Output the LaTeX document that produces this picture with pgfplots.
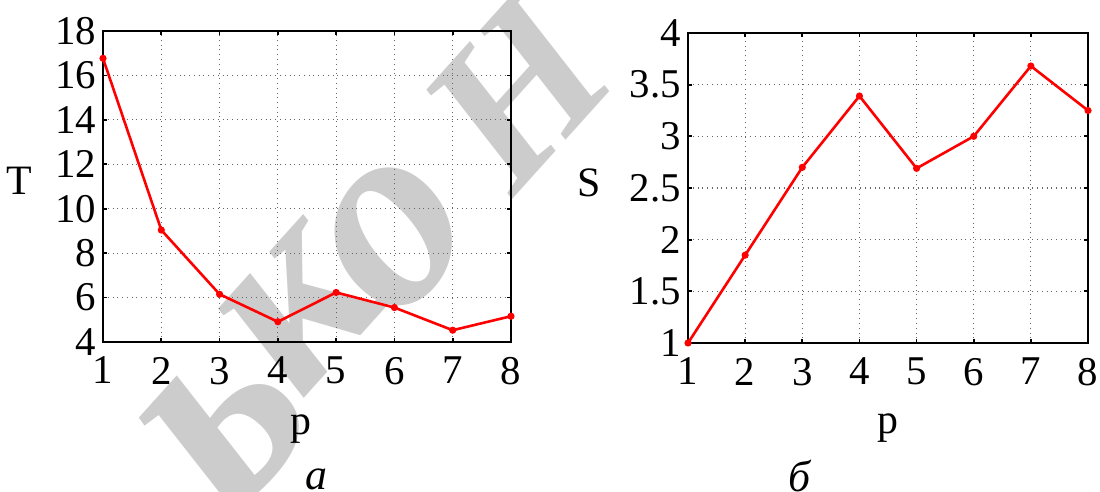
\documentclass[border=0pt]{standalone}
\usepackage{fontspec}
\setmainfont{Liberation Serif}
\usepackage{pgfplots}
\pgfplotsset{compat=1.18}
\pgfplotsset{mystyle/.style={
  scale only axis,
  axis line style={line width=1.2bp, black},
  tick align=inside,
  major tick length=2bp,
  tick style={line width=0.9bp, black},
  grid=major,
  major grid style={dotted, line width=0.6bp, black!60},
  xmin=1, xmax=8, xtick={1,2,3,4,5,6,7,8},
  tick label style={font=\fontsize{20.5}{24}\selectfont},
  xticklabel style={yshift=-4bp},
  label style={font=\fontsize{21}{25}\selectfont},
  /pgf/number format/assume math mode=true,
  ylabel style={rotate=-90, anchor=center},
  xlabel style={anchor=center},
}}
\begin{document}
\begin{tikzpicture}[x=0.5bp,y=0.5bp]
\path[use as bounding box] (0,0) rectangle (1100,492);
% watermark
\begin{scope}[every node/.style={inner sep=0pt, text=black!20, font=\fontsize{135}{140}\selectfont\bfseries\itshape, rotate=48}]
\node[font=\fontsize{150}{155}\selectfont\bfseries\itshape] at (228,68) {ь};
\node at (300,181) {к};
\node at (395,257) {о};
\node[font=\fontsize{105}{110}\selectfont\bfseries\itshape] at (517,400) {Н};
\end{scope}

\begin{axis}[mystyle, at={(51.5bp,75bp)}, anchor=south west,
  width=204bp, height=155.5bp,
  ymin=4, ymax=18, ytick={4,6,8,10,12,14,16,18},
  xlabel={p}, ylabel={T},
  xlabel style={at={(axis description cs:0.485,-0.28)}},
  ylabel style={at={(axis description cs:-0.205,0.518)}}]
\addplot[red, line width=1.3bp, mark=*, mark size=1.1bp] coordinates {
(1,16.77) (2,9.04) (3,6.15) (4,4.91) (5,6.23) (6,5.55) (7,4.53) (8,5.16)};
\end{axis}

\begin{axis}[mystyle, at={(344bp,74.5bp)}, anchor=south west,
  width=200bp, height=155bp,
  ymin=1, ymax=4, ytick={1,1.5,2,2.5,3,3.5,4},
  xlabel={p}, ylabel={S},
  xlabel style={at={(axis description cs:0.5,-0.275)}},
  ylabel style={at={(axis description cs:-0.2475,0.515)}}]
\addplot[red, line width=1.3bp, mark=*, mark size=1.1bp] coordinates {
(1,1.0) (2,1.85) (3,2.70) (4,3.39) (5,2.69) (6,3.0) (7,3.68) (8,3.25)};
\end{axis}

\node[inner sep=0pt, font=\fontsize{22}{26}\selectfont\itshape] at (316,13) {а};
\node[inner sep=0pt, font=\fontsize{22}{26}\selectfont\itshape] at (800,16) {б};
\end{tikzpicture}
\end{document}
